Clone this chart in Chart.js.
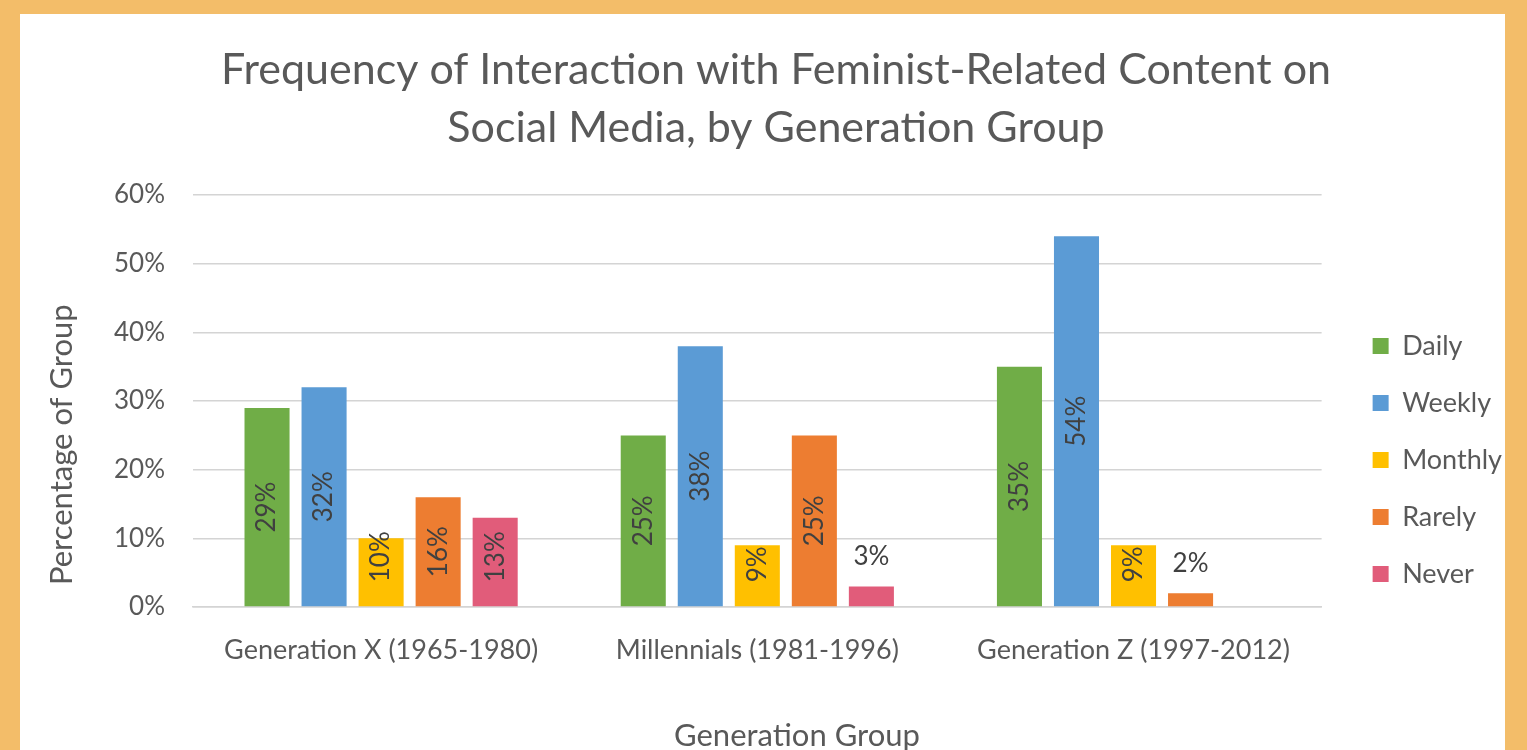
<!DOCTYPE html>
<html>
<head>
<meta charset="utf-8">
<script src="https://cdn.jsdelivr.net/npm/chart.js@4.4.1/dist/chart.umd.min.js"></script>
<style>
  html, body { margin: 0; padding: 0; background: #f3bd69; overflow: hidden; }
  .painel { position: absolute; left: 20px; top: 14px; width: 1485px; height: 736px; background: #fff; }
  canvas { display: block; position: absolute; left: 0; top: 0; }
</style>
</head>
<body>
<div class="painel"></div>
<canvas id="grafico" width="1500" height="741" style="left:20px;top:14px"></canvas>
<script>
const categorias = ["Generation X (1965-1980)", "Millennials (1981-1996)", "Generation Z (1997-2012)"];
const diario = [29, 25, 35];
const semanal = [32, 38, 54];
const mensal = [10, 9, 9];
const raramente = [16, 25, 2];
const nunca = [13, 3, 0];
const ticksY = ["0%", "10%", "20%", "30%", "40%", "50%", "60%"];

const fonte = "Lato, 'Open Sans', sans-serif";
const cinza = "#595959";
const nb = n => "\u00a0".repeat(n);

// rotulos das barras: em pe dentro da barra, ou deitado em cima se a barra for baixa
const rotulos = {
  id: "rotulos",
  afterDatasetsDraw(chart) {
    const ctx = chart.ctx;
    ctx.save();
    ctx.font = "26px " + fonte;
    ctx.fillStyle = "#404040";
    ctx.textAlign = "center";
    ctx.textBaseline = "middle";
    chart.data.datasets.forEach((ds, i) => {
      const meta = chart.getDatasetMeta(i);
      meta.data.forEach((bar, j) => {
        const v = ds.data[j];
        if (!v) return;
        const txt = v + "%";
        const w = ctx.measureText(txt).width;
        if (v >= 5) {
          let cy = (bar.y + bar.base) / 2;
          cy = Math.min(cy, bar.base - 24 - w / 2);
          ctx.save();
          ctx.translate(bar.x, cy);
          ctx.rotate(-Math.PI / 2);
          ctx.fillText(txt, 0, 0);
          ctx.restore();
        } else {
          ctx.fillText(txt, bar.x, bar.y - 30);
        }
      });
    });
    ctx.restore();
  }
};

const ctx = document.getElementById("grafico").getContext("2d");
new Chart(ctx, {
  type: "bar",
  data: {
    labels: categorias,
    datasets: [
      { label: "Daily", data: diario, backgroundColor: "#70ad47" },
      { label: "Weekly", data: semanal, backgroundColor: "#5b9bd5" },
      { label: "Monthly", data: mensal, backgroundColor: "#ffc000" },
      { label: "Rarely", data: raramente, backgroundColor: "#ed7d31" },
      { label: "Never", data: nunca, backgroundColor: "#e15c7a" }
    ]
  },
  options: {
    responsive: false,
    animation: false,
    categoryPercentage: 0.758,
    barPercentage: 0.79,
    layout: { padding: { left: 20, right: 8, top: 0, bottom: 0 } },
    plugins: {
      title: {
        display: true,
        text: ["Frequency of Interaction with Feminist-Related Content on", "Social Media, by Generation Group"],
        color: cinza,
        font: { family: fonte, size: 43, weight: "normal", lineHeight: 1.35 },
        padding: { top: 27, bottom: 38 }
      },
      legend: {
        position: "right",
        align: "start",
        title: { display: true, text: " ", padding: { top: 274, bottom: 0 } },
        labels: {
          boxWidth: 16,
          boxHeight: 16,
          padding: 30,
          color: cinza,
          font: { family: fonte, size: 27 }
        }
      },
      tooltip: { enabled: false }
    },
    scales: {
      x: {
        grid: { display: false, drawTicks: false },
        border: { color: "#d4d4d4", width: 1.5 },
        ticks: { color: cinza, padding: 27, font: { family: fonte, size: 27 } },
        title: {
          display: true,
          text: nb(10) + "Generation Group",
          color: cinza,
          font: { family: fonte, size: 31 },
          padding: { top: 0, bottom: 0 }
        },
        afterFit: s => { s.height = 148; }
      },
      y: {
        min: 0,
        max: 60,
        grid: { color: "#d4d4d4", lineWidth: 1.5, drawTicks: false },
        border: { display: false },
        afterBuildTicks: ax => {
          ax.ticks = ticksY.map(t => ({ value: parseFloat(t) }));
        },
        ticks: {
          color: cinza,
          padding: 28,
          font: { family: fonte, size: 26 },
          callback: (v, i) => ticksY[i]
        },
        title: {
          display: true,
          text: "Percentage of Group" + nb(11),
          color: cinza,
          font: { family: fonte, size: 31 },
          padding: { top: 3, bottom: 0 }
        },
        afterFit: s => { s.width = 153; }
      },
      folga: {
        position: "right",
        grid: { display: false },
        border: { display: false },
        ticks: { display: false },
        afterFit: s => { s.width = 21; }
      }
    }
  },
  plugins: [rotulos]
});
</script>
</body>
</html>
